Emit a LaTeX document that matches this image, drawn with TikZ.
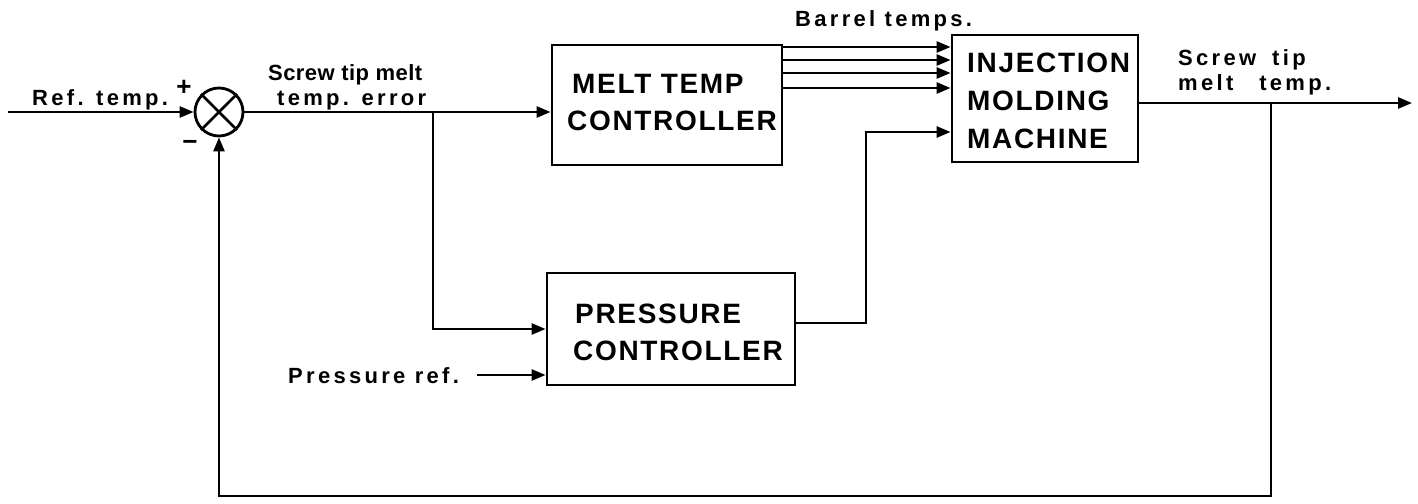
\documentclass[tikz,border=0pt]{standalone}
\usepackage{fontspec}
\setmainfont{Liberation Sans}
\newfontfamily\smallfam[LetterSpace=15]{Liberation Sans Bold}
\newfontfamily\tightfam[LetterSpace=2]{Liberation Sans Bold}
\newfontfamily\boxfam[LetterSpace=6]{Liberation Sans Bold}
\usetikzlibrary{arrows.meta}
\begin{document}
\begin{tikzpicture}[x=1pt,y=-1pt,
  wire/.style={line width=2.6pt},
  arr/.style={wire,-{Triangle[length=14pt,width=11pt]}},
  blk/.style={draw,line width=2.8pt,rectangle,inner sep=0pt},
  lbl/.style={inner sep=0pt,anchor=base west,font=\smallfam\fontsize{22}{24}\selectfont},
  tlbl/.style={inner sep=0pt,anchor=base west,font=\tightfam\fontsize{22}{24}\selectfont},
  btxt/.style={inner sep=0pt,anchor=base west,font=\boxfam\fontsize{28}{30}\selectfont}]
\useasboundingbox (0,0) rectangle (1418,503);
% blocks
\node[draw,circle,line width=2.8pt,minimum size=48pt,inner sep=0pt] (sum) at (219,112) {};
\draw[line width=2.8pt] (sum.north east) -- (sum.south west) (sum.north west) -- (sum.south east);
\node[blk,minimum width=230pt,minimum height=120pt] (melt) at (667,105) {};
\node[blk,minimum width=248pt,minimum height=112pt] (press) at (671,329) {};
\node[blk,minimum width=186pt,minimum height=127pt] (inj) at (1045,98.5) {};
% block texts
\node[btxt] (m1) at (572,93) {MELT TEMP};
\node[btxt] (m2) at (567,130) {CONTROLLER};
\node[btxt] (p1) at (575,323) {PRESSURE};
\node[btxt] (p2) at (573,360) {CONTROLLER};
\node[btxt] (i1) at (967,72) {INJECTION};
\node[btxt] (i2) at (967,110) {MOLDING};
\node[btxt] (i3) at (967,148) {MACHINE};
% labels
\node[lbl] (lref) at (32,105) {Ref. temp.};
\node[inner sep=0pt,font=\smallfam\fontsize{26}{28}\selectfont] (lplus) at (184,88) {+};
\node[inner sep=0pt,font=\smallfam\fontsize{26}{28}\selectfont] (lminus) at (190,145) {\textminus};
\node[tlbl] (lerr1) at (268,81) {Screw tip melt};
\node[lbl] (lerr2) at (277,105) {temp. error};
\node[lbl] (lbar) at (795,27) {Barrel temps.};
\node[lbl] (lout1) at (1178,66) {Screw\hspace{16pt}tip};
\node[lbl] (lout2) at (1178,90) {melt\hspace{26pt}temp.};
\node[lbl] (lpref) at (288,383) {Pressure ref.};
% coordinates
\coordinate (in) at (8,112);
\coordinate (b1) at (433,112);
\coordinate (pr) at (477,375);
\coordinate (pc) at (866,323);
\coordinate (pi) at (866,132);
\coordinate (out) at (1412,103);
\coordinate (fb) at (1271,103);
\coordinate (fbb) at (1271,496);
% connectors
\draw[arr] (in) -- (sum.west);
\draw[arr] (sum.east) -- (sum.east -| melt.west);
\draw[arr] (b1) |- (press.west);
\draw[arr] (pr) -- (pr -| press.west);
\draw[arr] (press.east |- pc) -- (pc) -- (pi) -- (pi -| inj.west);
\foreach \yy in {47,60,73,88}{
  \draw[arr] (melt.east |- 0,\yy) -- (inj.west |- 0,\yy);
}
\draw[arr] (inj.east |- out) -- (out);
\draw[arr] (fb) -- (fbb) -| (sum.south);
\end{tikzpicture}
\end{document}
